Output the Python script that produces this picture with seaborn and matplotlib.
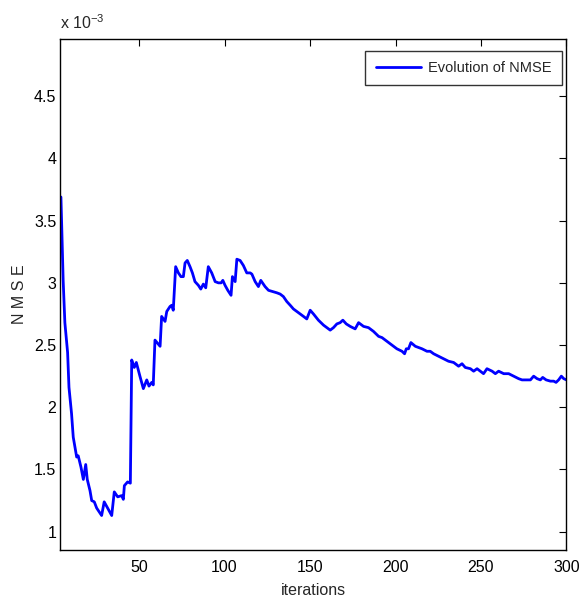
import numpy as np
import pandas as pd
import seaborn as sns
import matplotlib
matplotlib.use("Agg")
import matplotlib.pyplot as plt

# NMSE values (units of 1e-3)
iterations = [4.3, 5.6, 6.6, 8.2, 9, 10.5, 11.5, 13.5, 14.4, 16, 17.4, 18.8, 19.7, 21.3,
              22.3, 23.8, 25.2, 27.1, 28.1, 29.6, 31.6, 34, 35.5, 37.5, 39.8, 40.8, 41.4,
              43.3, 44.9, 45.7, 47.2, 48.4, 50.5, 52.5, 54.5, 55.8, 57.4, 58.3, 59.3, 62.3,
              63.2, 65.2, 66.2, 68.1, 69.1, 70, 71.4, 73, 74.5, 75.9, 76.9, 78.2, 79.8,
              81.2, 82.7, 84.7, 86.1, 87.6, 89, 90.5, 92.5, 94.5, 96.4, 98, 99, 100.3,
              101.9, 103.8, 104.6, 106.2, 107.2, 109.1, 111, 113, 115, 116, 117.9, 119.8,
              121.2, 123.7, 125.7, 128.2, 130.6, 132.5, 134.4, 136.4, 138.4, 140.3, 142.3,
              144.2, 146.2, 148.1, 150.1, 152, 154.9, 157.9, 159.9, 161.8, 163.7, 165.7,
              167.6, 169.2, 171.2, 173.5, 176.4, 178.4, 181.3, 184.2, 187.1, 190.1, 192.1,
              195, 197.9, 200.8, 203.8, 205.3, 206.3, 207.6, 209, 211.6, 213.5, 215.5,
              218.4, 220.3, 222.3, 225.2, 228.1, 231, 234, 236.9, 238.9, 240.8, 243.8,
              245.7, 247.7, 249.6, 251.5, 253.5, 256.5, 258.4, 260.3, 263.3, 266.2, 269.1,
              272, 274, 275.9, 278.9, 280.8, 282.8, 284.7, 286.1, 288.1, 290.6, 292.5,
              293.9, 295.4, 297, 298.4, 300]
nmse_e3 = [3.69, 3.02, 2.68, 2.44, 2.16, 1.95, 1.76, 1.60, 1.61, 1.52, 1.42, 1.54, 1.42, 1.33,
           1.25, 1.24, 1.19, 1.15, 1.13, 1.24, 1.19, 1.13, 1.32, 1.28, 1.29, 1.26, 1.37,
           1.40, 1.39, 2.38, 2.32, 2.36, 2.25, 2.15, 2.22, 2.17, 2.20, 2.18, 2.54, 2.49,
           2.73, 2.69, 2.77, 2.81, 2.82, 2.78, 3.13, 3.08, 3.05, 3.05, 3.16, 3.18, 3.13,
           3.08, 3.01, 2.98, 2.95, 2.99, 2.96, 3.13, 3.08, 3.01, 3.00, 3.00, 3.02, 2.98,
           2.94, 2.90, 3.05, 3.01, 3.19, 3.18, 3.14, 3.08, 3.08, 3.07, 3.01, 2.97,
           3.02, 2.97, 2.94, 2.93, 2.92, 2.91, 2.89, 2.85, 2.82, 2.79, 2.77,
           2.75, 2.73, 2.71, 2.78, 2.75, 2.70, 2.66, 2.64, 2.62, 2.64, 2.67,
           2.68, 2.70, 2.67, 2.65, 2.63, 2.68, 2.65, 2.64, 2.61, 2.57, 2.56,
           2.53, 2.50, 2.47, 2.45, 2.43, 2.47, 2.47, 2.52, 2.49, 2.48, 2.47,
           2.45, 2.45, 2.43, 2.41, 2.39, 2.37, 2.36, 2.33, 2.35, 2.32, 2.31,
           2.29, 2.31, 2.29, 2.27, 2.31, 2.29, 2.27, 2.29, 2.27, 2.27, 2.25,
           2.23, 2.22, 2.22, 2.22, 2.25, 2.23, 2.22, 2.24, 2.22, 2.21, 2.21,
           2.20, 2.22, 2.25, 2.23, 2.22]
x_ticks = [50, 100, 150, 200, 250, 300]
y_ticks = [1, 1.5, 2, 2.5, 3, 3.5, 4, 4.5]

df = pd.DataFrame({"iterations": iterations, "NMSE": nmse_e3})

sns.set_style("white")
plt.rcParams["font.family"] = ["Liberation Sans", "DejaVu Sans"]

fig = plt.figure(figsize=(5.81, 5.98), dpi=100)
ax = fig.add_axes([0.104, 0.0803, 0.871, 0.8545])

sns.lineplot(data=df, x="iterations", y="NMSE", color="#0000ff", linewidth=2,
             label="Evolution of NMSE", ax=ax, sort=False)

ax.set_xlim(4, 300)
ax.set_ylim(0.853, 4.96)
ax.set_xticks(x_ticks)
ax.set_yticks(y_ticks)
ax.set_yticklabels([f"{t:g}" for t in y_ticks])
ax.tick_params(direction="in", length=5, width=0.8, top=True, right=True,
               labelsize=11.5, colors="black")
ax.tick_params(axis="y", pad=3)
ax.tick_params(axis="x", pad=7)
for s in ax.spines.values():
    s.set_color("black")
    s.set_linewidth(1)

ax.set_xlabel("iterations", fontsize=11.5, labelpad=6)
ax.set_ylabel("N M S E", fontsize=11.5, labelpad=5)
fig.text(0.104, 0.952, r"x 10$^{\mathregular{-3}}$", fontsize=11.5)

leg = ax.legend(loc="upper right", bbox_to_anchor=(0.9907, 0.9765), fontsize=10.5,
                frameon=True, fancybox=False, borderaxespad=0, handlelength=3.15,
                borderpad=0.7, handletextpad=0.45, edgecolor="black")
leg.get_frame().set_linewidth(1)

fig.savefig("out.png", dpi=100)
plt.close()
